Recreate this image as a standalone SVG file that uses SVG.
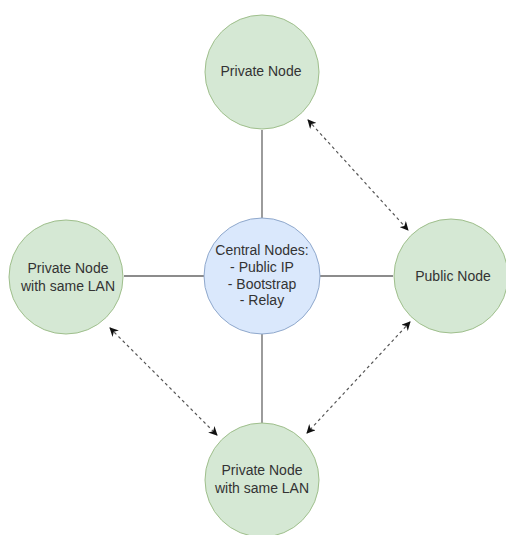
<svg xmlns="http://www.w3.org/2000/svg" width="506" height="535" viewBox="0 0 506 535">
<defs>
<style>
.g{fill:#d5e8d4;stroke:#9fbf8c;stroke-width:1}
.b{fill:#dae8fc;stroke:#8fa8cc;stroke-width:1}
.t{font-family:"Liberation Sans",Arial,sans-serif;font-size:14px;fill:#333;text-anchor:middle}
.s{stroke:#666;stroke-width:1.3;fill:none}
.d{stroke:#555;stroke-width:1.2;fill:none;stroke-dasharray:3 3;marker-start:url(#a);marker-end:url(#a)}
</style>
<marker id="a" viewBox="0 0 10 10" refX="9" refY="5" markerWidth="9" markerHeight="9" markerUnits="userSpaceOnUse" orient="auto-start-reverse">
<path d="M0,0 L10,5 L0,10 L3,5 Z" fill="#111"/>
</marker>
</defs>
<rect width="506" height="535" fill="#fff"/>
<g id="connectors">
<line class="s" x1="262" y1="130" x2="262" y2="218"/>
<line class="s" x1="124" y1="276" x2="204" y2="276"/>
<line class="s" x1="320" y1="276" x2="393" y2="276"/>
<line class="s" x1="262" y1="334" x2="262" y2="423"/>
<line class="d" x1="308" y1="120" x2="408" y2="230"/>
<line class="d" x1="110" y1="328" x2="217" y2="435"/>
<line class="d" x1="410" y1="322" x2="307" y2="433"/>
</g>
<g id="top">
<circle class="g" cx="262" cy="72" r="57"/>
<text class="t" x="261" y="76">Private Node</text>
</g>
<g id="center">
<circle class="b" cx="262" cy="276" r="58"/>
<text class="t" x="262" y="255">Central Nodes:</text>
<text class="t" x="262" y="272">- Public IP</text>
<text class="t" x="262" y="289">- Bootstrap</text>
<text class="t" x="262" y="305">- Relay</text>
</g>
<g id="left">
<circle class="g" cx="66" cy="277" r="57"/>
<text class="t" x="68" y="273">Private Node</text>
<text class="t" x="68" y="291">with same LAN</text>
</g>
<g id="right">
<circle class="g" cx="451" cy="276" r="57"/>
<text class="t" x="453" y="281">Public Node</text>
</g>
<g id="bottom">
<circle class="g" cx="262" cy="480" r="57"/>
<text class="t" x="262" y="475">Private Node</text>
<text class="t" x="262" y="493">with same LAN</text>
</g>
</svg>
